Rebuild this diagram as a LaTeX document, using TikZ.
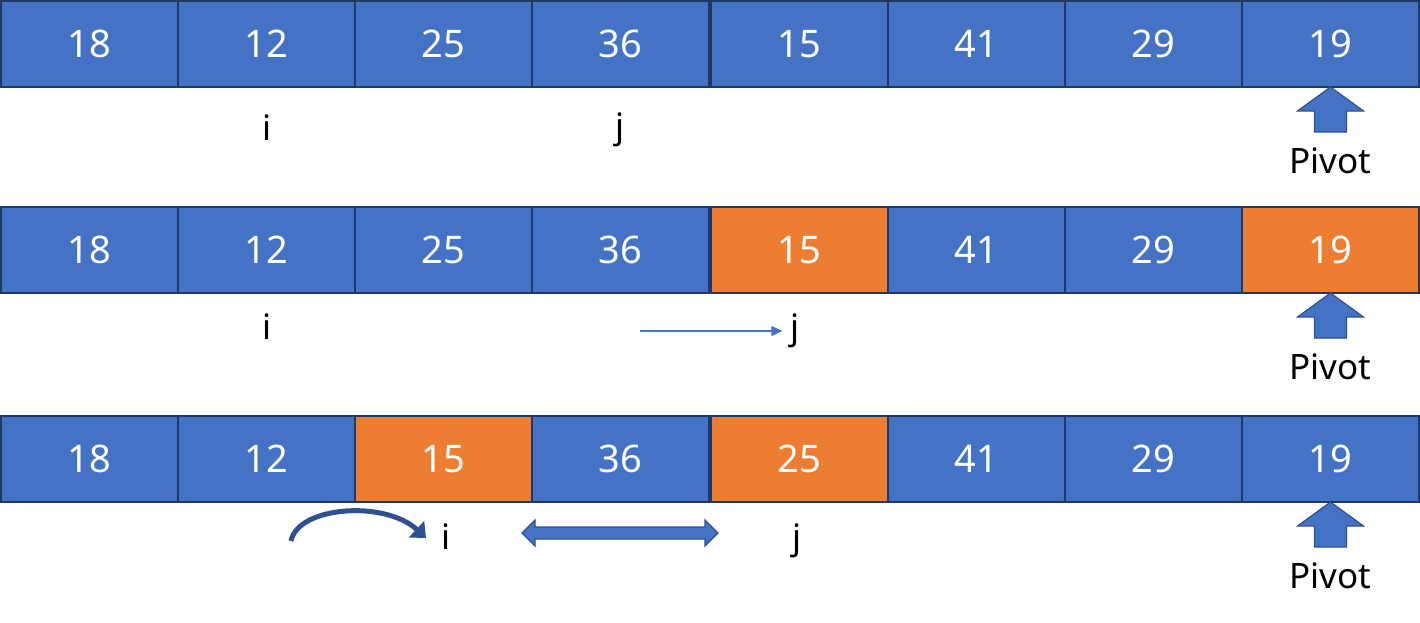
\documentclass[tikz,border=0pt]{standalone}
\usepackage{fontspec}
\setmainfont{Noto Sans}
\usetikzlibrary{arrows.meta}
\definecolor{cblue}{HTML}{4472C4}
\definecolor{corange}{HTML}{ED7D31}
\definecolor{cedge}{HTML}{203864}
\definecolor{cdark}{HTML}{2F528F}
\tikzset{
  cellbox/.style={draw=cedge, line width=1.5pt, fill=cblue, text=white,
    minimum width=177pt, minimum height=86pt, inner sep=0pt, outer sep=0pt,
    font=\fontsize{38}{40}\selectfont},
  orangecell/.style={cellbox, fill=corange},
  lbl/.style={font=\fontsize{35}{38}\selectfont, inner sep=0pt, text=black},
  pivarrow/.style={fill=cblue, draw=cdark, line width=1.2pt, line join=miter},
}
\begin{document}
\begin{tikzpicture}[x=1pt,y=-1pt]
\useasboundingbox (0,0) rectangle (1420,622);
% Row 1
\node[cellbox] (a1) at (89.5,44) {18};
\node[cellbox] (a2) at (266.5,44) {12};
\node[cellbox] (a3) at (443.5,44) {25};
\node[cellbox] (a4) at (620.5,44) {36};
\node[cellbox] (a5) at (799.5,44) {15};
\node[cellbox] (a6) at (976.5,44) {41};
\node[cellbox] (a7) at (1153.5,44) {29};
\node[cellbox] (a8) at (1330.5,44) {19};
\node[lbl] (ai) at (267,128) {i};
\node[lbl] (aj) at (620,130) {j};
\coordinate (ap) at (a8.south);
\draw[pivarrow] (ap) -- ++(33,24) -- ++(-17,0) -- ++(0,21) -- ++(-32,0) -- ++(0,-21) -- ++(-17,0) -- cycle;
\node[lbl] (apl) at (1330,161) {Pivot};
% Row 2
\node[cellbox] (b1) at (89.5,250) {18};
\node[cellbox] (b2) at (266.5,250) {12};
\node[cellbox] (b3) at (443.5,250) {25};
\node[cellbox] (b4) at (620.5,250) {36};
\node[orangecell] (b5) at (799.5,250) {15};
\node[cellbox] (b6) at (976.5,250) {41};
\node[cellbox] (b7) at (1153.5,250) {29};
\node[orangecell] (b8) at (1330.5,250) {19};
\node[lbl] (bi) at (267,327) {i};
\node[lbl] (bj) at (795,331) {j};
\coordinate (bs) at (640,331);
\draw[cblue, line width=1.2pt, -{Triangle[length=11pt,width=10pt]}] (bs) -- ([xshift=-8pt]bj.west |- bs);
\coordinate (bp) at (b8.south);
\draw[pivarrow] (bp) -- ++(33,24) -- ++(-17,0) -- ++(0,21) -- ++(-32,0) -- ++(0,-21) -- ++(-17,0) -- cycle;
\node[lbl] (bpl) at (1330,367) {Pivot};
% Row 3
\node[cellbox] (c1) at (89.5,459) {18};
\node[cellbox] (c2) at (266.5,459) {12};
\node[orangecell] (c3) at (443.5,459) {15};
\node[cellbox] (c4) at (620.5,459) {36};
\node[orangecell] (c5) at (799.5,459) {25};
\node[cellbox] (c6) at (976.5,459) {41};
\node[cellbox] (c7) at (1153.5,459) {29};
\node[cellbox] (c8) at (1330.5,459) {19};
\node[lbl] (ci) at (446,537) {i};
\node[lbl] (cj) at (797,541) {j};
\coordinate (cs) at (291,541);
\coordinate (ce) at (426,538);
\draw[cdark, line width=5pt, -{Triangle[length=13pt,width=22pt]}] (cs) .. controls (298,506) and (385,500) .. (ce);
\coordinate (dl) at (522,533);
\coordinate (dr) at (718,533);
\draw[pivarrow] (dl) -- ++(13,-13) -- ++(0,7) -- ++(170,0) -- ++(0,-7) -- (dr) -- ++(-13,13) -- ++(0,-7) -- ++(-170,0) -- ++(0,7) -- cycle;
\coordinate (cp) at (c8.south);
\draw[pivarrow] (cp) -- ++(33,24) -- ++(-17,0) -- ++(0,21) -- ++(-32,0) -- ++(0,-21) -- ++(-17,0) -- cycle;
\node[lbl] (cpl) at (1330,576) {Pivot};
\end{tikzpicture}
\end{document}
